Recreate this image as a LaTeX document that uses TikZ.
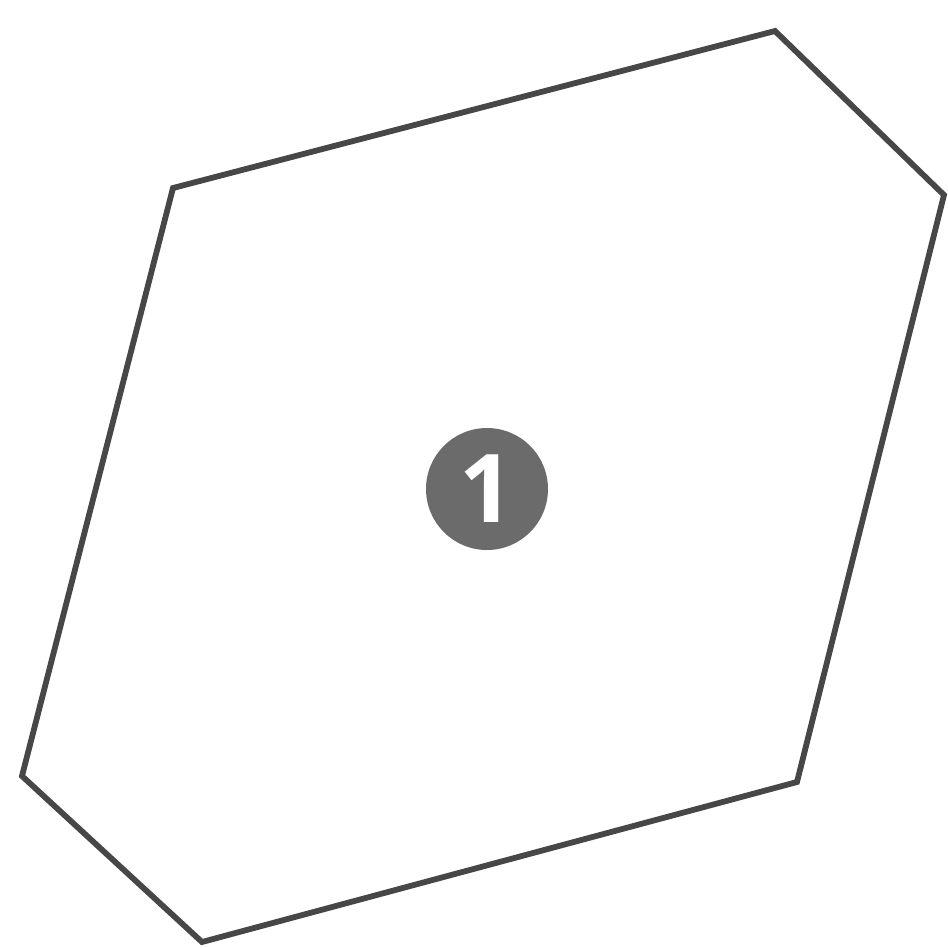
\documentclass[tikz,border=0pt]{standalone}
\usepackage{fontspec}
\newfontfamily\numfont{Open Sans}
\begin{document}
\begin{tikzpicture}[x=0.1mm,y=-0.1mm,
  outline/.style={draw=black!72,line width=0.58mm,line join=miter},
  badge/.style={circle,fill=black!58,minimum size=12.2mm,inner sep=0pt,text=white,font=\numfont\bfseries\fontsize{27}{29}\selectfont}]
\useasboundingbox (0,0) rectangle (948,948);
\coordinate (p1) at (173,188);
\coordinate (p2) at (775,31);
\coordinate (p3) at (944,195);
\coordinate (p4) at (797,782);
\coordinate (p5) at (202,942);
\coordinate (p6) at (22,776);
\draw[outline] (p1) -- (p2) -- (p3) -- (p4) -- (p5) -- (p6) -- cycle;
\node[badge] (b) at (487,489) {1};
\end{tikzpicture}
\end{document}
